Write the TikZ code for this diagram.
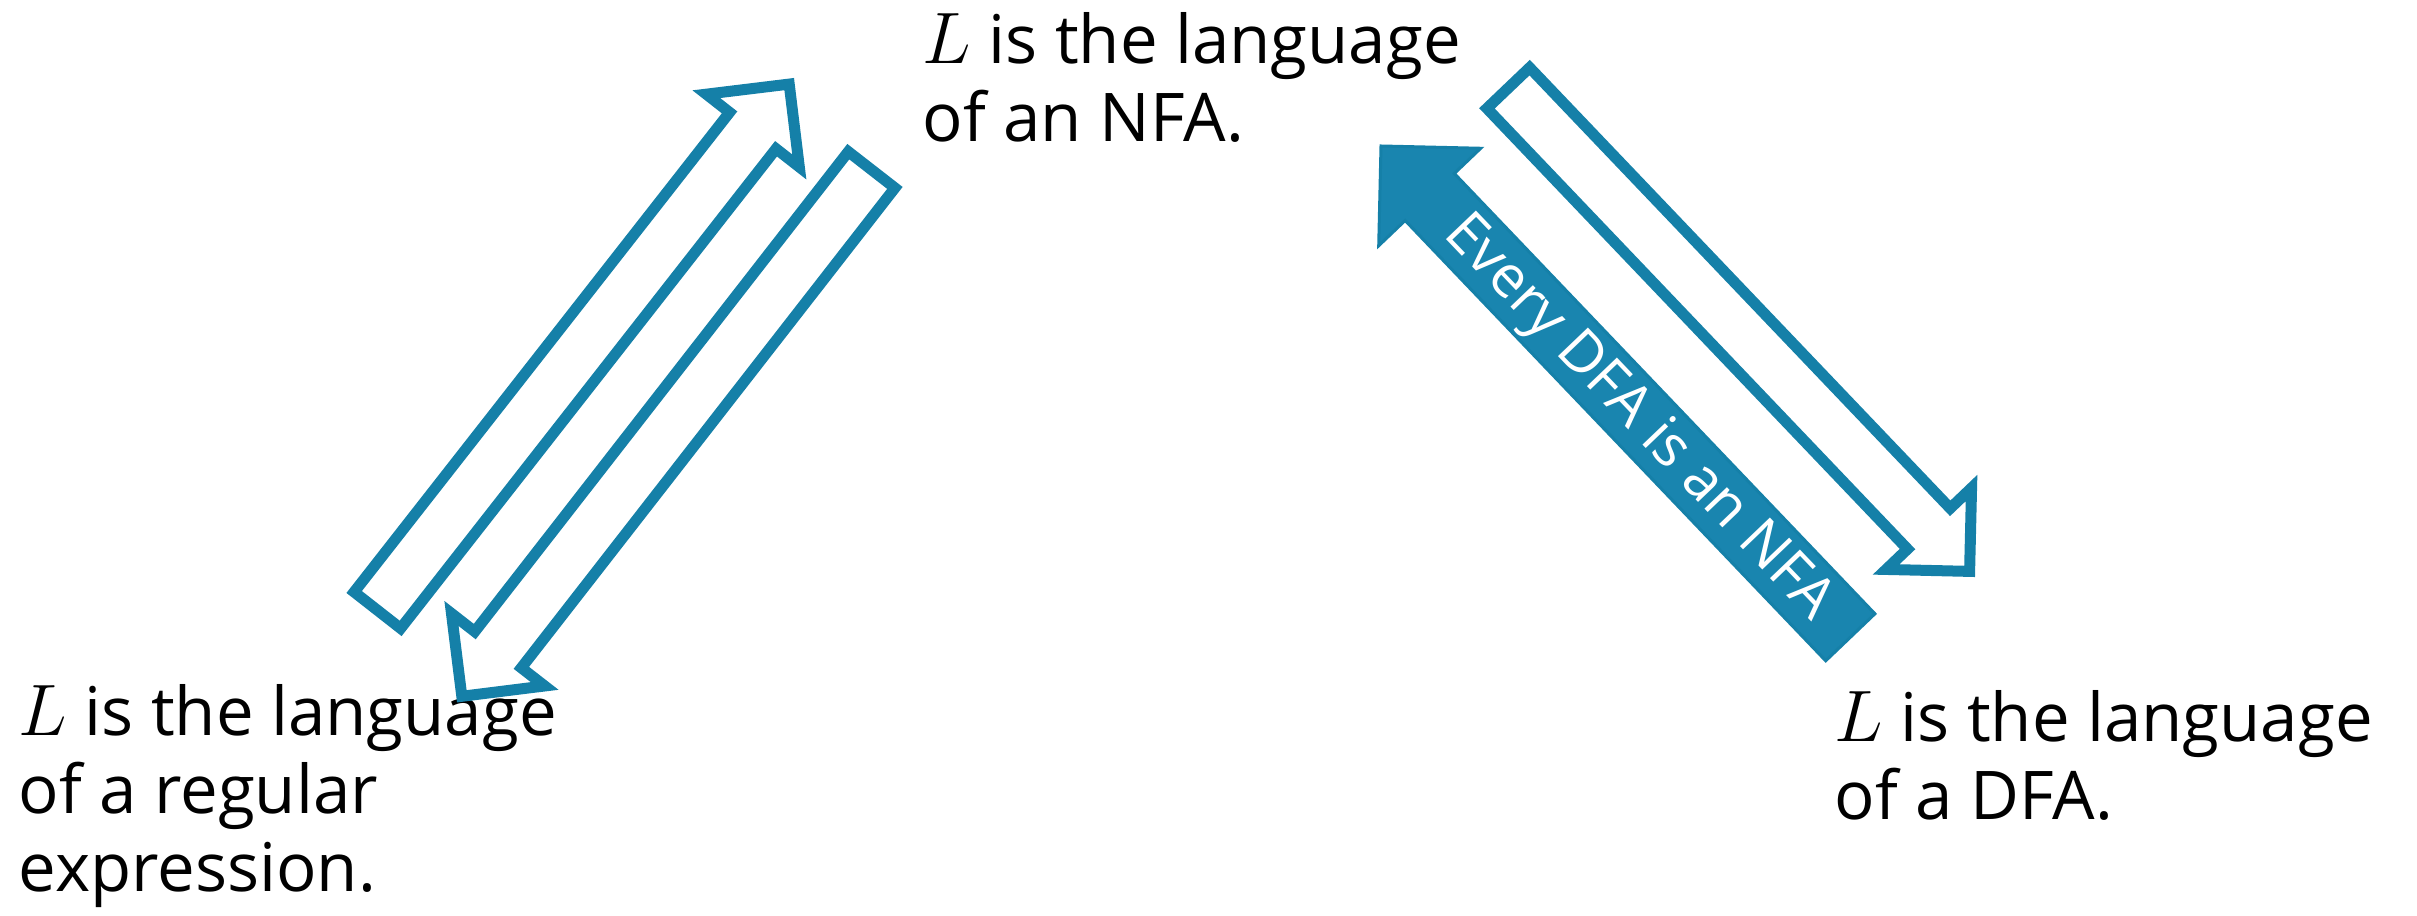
\documentclass[tikz,border=0pt]{standalone}
\usepackage{fontspec}
\setmainfont{Open Sans}
\usetikzlibrary{calc}
\definecolor{arrowblue}{HTML}{1580A8}
\definecolor{arrowfill}{HTML}{1985AF}

\tikzset{
  % block arrow: shaft half-width, head half-width, head length
  block arrow/.style n args={3}{
    to path={
      ($(\tikztostart)!#1!90:(\tikztotarget)$)
      -- ($(\tikztotarget)!#3!(\tikztostart)!#1!90:(\tikztotarget)$)
      -- ($(\tikztotarget)!#3!(\tikztostart)!#2!90:(\tikztotarget)$)
      -- (\tikztotarget)
      -- ($(\tikztotarget)!#3!(\tikztostart)!#2!-90:(\tikztotarget)$)
      -- ($(\tikztotarget)!#3!(\tikztostart)!#1!-90:(\tikztotarget)$)
      -- ($(\tikztostart)!#1!-90:(\tikztotarget)$)
      -- cycle
    }
  },
  hollow/.style={draw=arrowblue, fill=white, line width=0.11cm, line join=miter},
  solid/.style={draw=arrowblue, fill=arrowfill, line width=0.03cm, line join=miter},
  statement/.style={anchor=base west, inner sep=0pt, align=left,
    font=\fontsize{19.1}{22.3}\selectfont},
  arrowtext/.style={anchor=base, inner sep=0pt, text=white,
    font=\fontsize{16.5}{20}\selectfont}
}

\begin{document}
\begin{tikzpicture}[x=0.01cm, y=-0.01cm]

    \fill [white] (0, 0) rectangle (2417, 916);
    \useasboundingbox (0, 0) rectangle (2417, 916);

    % base anchor sits on the last line
    \node [statement] (re) at (18, 892) {$L$ is the language\\of a regular\\expression.};
    \node [statement] (nfa) at (922, 142) {$L$ is the language\\of an NFA.};
    \node [statement] (dfa) at (1834, 820) {$L$ is the language\\of a DFA.};

    \coordinate (re-nfa-a) at (377.4, 610.2);
    \coordinate (re-nfa-b) at (789.2, 84.1);
    \coordinate (nfa-re-a) at (871.6, 169.8);
    \coordinate (nfa-re-b) at (461.8, 696.3);
    \coordinate (nfa-dfa-a) at (1508.3, 88);
    \coordinate (nfa-dfa-b) at (1969.6, 571.4);
    \coordinate (dfa-nfa-a) at (1850.3, 637.3);
    \coordinate (dfa-nfa-b) at (1381, 146);

    \draw [hollow] (re-nfa-a) to [block arrow={0.295cm}{0.59cm}{0.59cm}] (re-nfa-b);
    \draw [hollow] (nfa-re-a) to [block arrow={0.295cm}{0.59cm}{0.59cm}] (nfa-re-b);
    \draw [hollow] (nfa-dfa-a) to [block arrow={0.295cm}{0.59cm}{0.59cm}] (nfa-dfa-b);
    \draw [solid] (dfa-nfa-a) to [block arrow={0.34cm}{0.705cm}{0.705cm}] (dfa-nfa-b);

    \node [arrowtext, rotate=-46.3] (every)
      at ($(dfa-nfa-a)!0.449!(dfa-nfa-b)!0.17cm!90:(dfa-nfa-b)$) {Every DFA is an NFA};

\end{tikzpicture}
\end{document}
